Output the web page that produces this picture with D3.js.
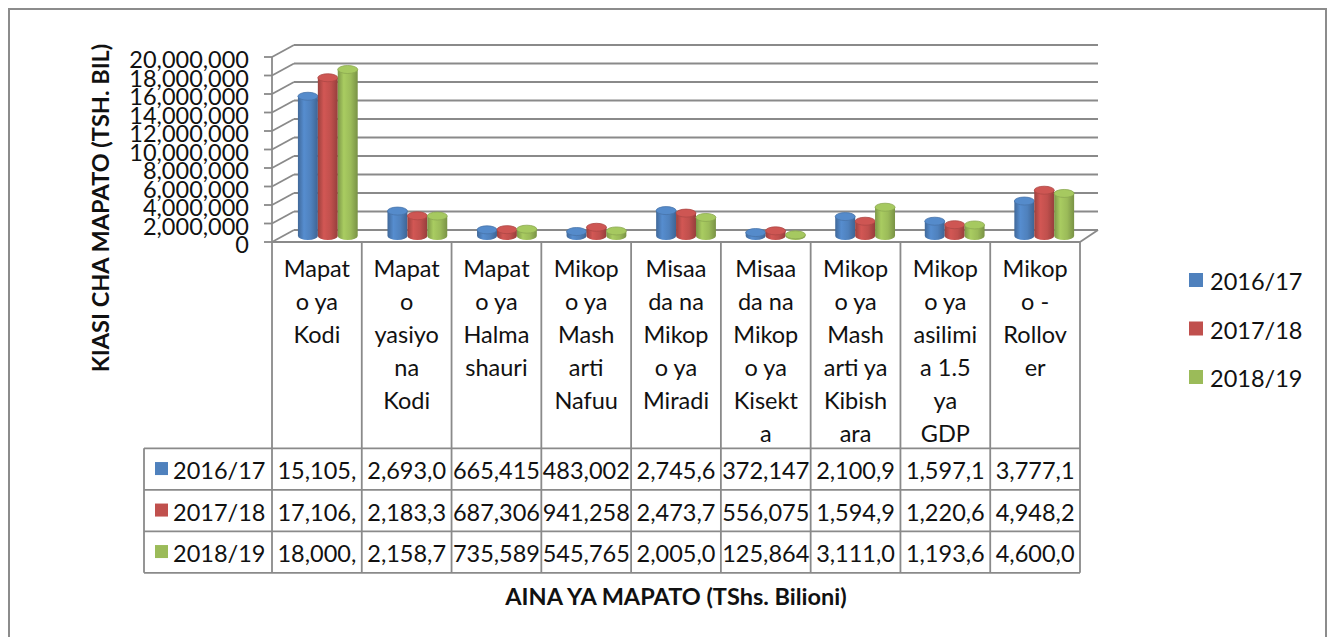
<!DOCTYPE html>
<html>
<head>
<meta charset="utf-8">
<script src="https://cdn.jsdelivr.net/npm/d3@7"></script>
<style>
  html, body { margin: 0; padding: 0; background: #fff; }
  svg { display: block; }
  text { font-family: Lato, "Open Sans", sans-serif; fill: #111; }
</style>
</head>
<body>
<svg id="chart" width="1332" height="637"></svg>
<script>
// ---------------- DATA ----------------
const categories = [
  "Mapato ya Kodi", "Mapato yasiyo na Kodi", "Mapato ya Halmashauri",
  "Mikopo ya Masharti Nafuu", "Misaada na Mikopo ya Miradi",
  "Misaada na Mikopo ya Kisekta", "Mikopo ya Masharti ya Kibishara",
  "Mikopo ya asilimia 1.5 ya GDP", "Mikopo - Rollover"
];
// category tick labels as wrapped in the data table
const categoryLines = [
  ["Mapat", "o ya", "Kodi"],
  ["Mapat", "o", "yasiyo", "na", "Kodi"],
  ["Mapat", "o ya", "Halma", "shauri"],
  ["Mikop", "o ya", "Mash", "arti", "Nafuu"],
  ["Misaa", "da na", "Mikop", "o ya", "Miradi"],
  ["Misaa", "da na", "Mikop", "o ya", "Kisekt", "a"],
  ["Mikop", "o ya", "Mash", "arti ya", "Kibish", "ara"],
  ["Mikop", "o ya", "asilimi", "a 1.5", "ya", "GDP"],
  ["Mikop", "o -", "Rollov", "er"]
];
const seriesNames = ["2016/17", "2017/18", "2018/19"];
const values2016 = [15105100, 2693000, 665415, 483002, 2745600, 372147, 2100900, 1597100, 3777100];
const values2017 = [17106000, 2183300, 687306, 941258, 2473700, 556075, 1594900, 1220600, 4948200];
const values2018 = [18000000, 2158700, 735589, 545765, 2005000, 125864, 3111000, 1193600, 4600000];
const seriesColors = ["#4F81BD", "#C0504D", "#9BBB59"];
const yTicks = [0, 2000000, 4000000, 6000000, 8000000, 10000000, 12000000, 14000000, 16000000, 18000000, 20000000];
const yTitle = "KIASI CHA MAPATO (TSH. BIL)";
const xTitle = "AINA YA MAPATO (TShs. Bilioni)";

const seriesValues = [values2016, values2017, values2018];

// ---------------- LAYOUT ----------------
const svg = d3.select("#chart");
const FONT = 23.5;
const gridColor = "#8a8a8a";
const frontLeft = 272, frontRight = 1080;
const floorY = 242;
const depthDX = x => 22 - 4 * (x - frontLeft) / (frontRight - frontLeft);
const depthDY = -12;

const yFront = d3.scaleLinear().domain([0, 20000000]).range([floorY, 57]);
const xCol = d3.scaleBand().domain(categories).range([frontLeft, frontRight]).padding(0);
const xCat = d3.scaleBand().domain(categories).range([frontLeft, frontRight])
  .paddingInner(0.333).paddingOuter(0.1667);
const xSer = d3.scaleBand().domain(seriesNames).range([0, xCat.bandwidth()]).padding(0);

// outer frame
svg.append("rect").attr("x", 9).attr("y", 9).attr("width", 1317).attr("height", 700)
  .attr("fill", "none").attr("stroke", "#8c8c8c").attr("stroke-width", 2);

// gradients
const defs = svg.append("defs");
seriesColors.forEach((c, i) => {
  const base = d3.color(c);
  const g = defs.append("linearGradient").attr("id", "cyl" + i)
    .attr("x1", "0%").attr("x2", "100%").attr("y1", "0%").attr("y2", "0%");
  g.append("stop").attr("offset", "0%").attr("stop-color", base.darker(0.6));
  g.append("stop").attr("offset", "30%").attr("stop-color", base.brighter(0.25));
  g.append("stop").attr("offset", "65%").attr("stop-color", base);
  g.append("stop").attr("offset", "100%").attr("stop-color", base.darker(0.7));
});

// ---------------- WALLS / GRID ----------------
const grid = svg.append("g");
const backL = frontLeft + depthDX(frontLeft);
const backR = frontRight + depthDX(frontRight);
yTicks.forEach(t => {
  const yf = yFront(t);
  grid.append("line").attr("x1", frontLeft).attr("y1", yf)
    .attr("x2", backL).attr("y2", yf + depthDY)
    .attr("stroke", gridColor).attr("stroke-width", 1.8);
  grid.append("line").attr("x1", backL).attr("y1", yf + depthDY)
    .attr("x2", backR).attr("y2", yf + depthDY)
    .attr("stroke", gridColor).attr("stroke-width", 1.8);
  grid.append("line").attr("x1", frontLeft - 8).attr("y1", yf)
    .attr("x2", frontLeft).attr("y2", yf)
    .attr("stroke", gridColor).attr("stroke-width", 1.8);
});
// axis line (front-left edge)
grid.append("line").attr("x1", frontLeft).attr("y1", yFront(0))
  .attr("x2", frontLeft).attr("y2", yFront(20000000))
  .attr("stroke", gridColor).attr("stroke-width", 1.8);
// floor right edge
grid.append("line").attr("x1", frontRight).attr("y1", floorY)
  .attr("x2", backR).attr("y2", floorY + depthDY)
  .attr("stroke", gridColor).attr("stroke-width", 1.8);

// y tick labels
svg.append("g").selectAll("text").data(yTicks).join("text")
  .attr("x", 249).attr("y", d => yFront(d) + 2)
  .attr("text-anchor", "end").attr("dominant-baseline", "central")
  .attr("font-size", FONT)
  .text(d => d3.format(",")(d));

// ---------------- CYLINDERS ----------------
const bars = svg.append("g");
const rx = xSer.bandwidth() / 2, ry = 4;
categories.forEach((cat, ci) => {
  seriesNames.forEach((s, si) => {
    const v = seriesValues[si][ci];
    const xl = xCat(cat) + xSer(s);
    const cx = xl + rx + depthDX(xl) / 2;
    const yT = yFront(v) + depthDY / 2;
    const yB = yFront(0) + depthDY / 2;
    bars.append("path")
      .attr("d", `M${cx - rx},${yT} L${cx - rx},${yB} A${rx},${ry} 0 0 0 ${cx + rx},${yB} L${cx + rx},${yT} Z`)
      .attr("fill", `url(#cyl${si})`);
    const base = d3.color(seriesColors[si]);
    bars.append("ellipse").attr("cx", cx).attr("cy", yT).attr("rx", rx).attr("ry", ry)
      .attr("fill", base.brighter(0.2)).attr("stroke", base.darker(0.3)).attr("stroke-width", 0.8);
  });
});

// ---------------- FLOOR FRONT EDGE + DATA TABLE ----------------
const table = svg.append("g");
const labelBottom = 448.3, rowH = 41.5;
const tableBottom = labelBottom + rowH * 3;
const headerLeft = 144;

table.append("line").attr("x1", frontLeft).attr("y1", floorY).attr("x2", frontRight).attr("y2", floorY)
  .attr("stroke", gridColor).attr("stroke-width", 1.8);
// vertical column lines
const colEdges = categories.map(c => xCol(c)).concat([frontRight]);
colEdges.forEach(x => {
  table.append("line").attr("x1", x).attr("y1", floorY).attr("x2", x).attr("y2", tableBottom)
    .attr("stroke", gridColor).attr("stroke-width", 1.8);
});
// horizontal row lines
[0, 1, 2, 3].forEach(i => {
  const y = labelBottom + i * rowH;
  table.append("line").attr("x1", headerLeft).attr("y1", y).attr("x2", frontRight).attr("y2", y)
    .attr("stroke", gridColor).attr("stroke-width", 1.8);
});
table.append("line").attr("x1", headerLeft).attr("y1", labelBottom).attr("x2", headerLeft).attr("y2", tableBottom)
  .attr("stroke", gridColor).attr("stroke-width", 1.8);

// category labels
categories.forEach((cat, ci) => {
  const t = table.append("text").attr("text-anchor", "middle").attr("font-size", FONT);
  categoryLines[ci].forEach((line, li) => {
    t.append("tspan").attr("x", xCol(cat) + xCol.bandwidth() / 2).attr("y", 277 + li * 33).text(line);
  });
});

// row headers + values
seriesNames.forEach((s, si) => {
  const yc = labelBottom + si * rowH + rowH / 2;
  table.append("rect").attr("x", 155).attr("y", yc - 7).attr("width", 13).attr("height", 13)
    .attr("fill", seriesColors[si]);
  table.append("text").attr("x", 173).attr("y", yc + 1).attr("dominant-baseline", "central")
    .attr("font-size", FONT).text(s);
  categories.forEach((cat, ci) => {
    const full = d3.format(",")(seriesValues[si][ci]);
    const t = table.append("text").attr("x", xCol(cat) + xCol.bandwidth() / 2).attr("y", yc + 1)
      .attr("text-anchor", "middle").attr("dominant-baseline", "central")
      .attr("font-size", FONT).text(full);
    let str = full;
    while (t.node().getComputedTextLength() > xCol.bandwidth() - 1 && str.length > 1) {
      str = str.slice(0, -1);
      t.text(str);
    }
  });
});

// ---------------- TITLES ----------------
svg.append("text").attr("transform", "translate(100,208) rotate(-90)")
  .attr("text-anchor", "middle").attr("dominant-baseline", "central")
  .attr("font-size", FONT).attr("font-weight", "bold").text(yTitle);
svg.append("text").attr("x", 676).attr("y", 596)
  .attr("text-anchor", "middle").attr("dominant-baseline", "central")
  .attr("font-size", FONT).attr("font-weight", "bold").text(xTitle);

// ---------------- LEGEND ----------------
const legY = [280, 328.5, 377];
seriesNames.forEach((s, si) => {
  svg.append("rect").attr("x", 1189).attr("y", legY[si] - 7).attr("width", 14).attr("height", 14)
    .attr("fill", seriesColors[si]);
  svg.append("text").attr("x", 1210).attr("y", legY[si] + 1).attr("dominant-baseline", "central")
    .attr("font-size", FONT).text(s);
});
</script>
</body>
</html>
